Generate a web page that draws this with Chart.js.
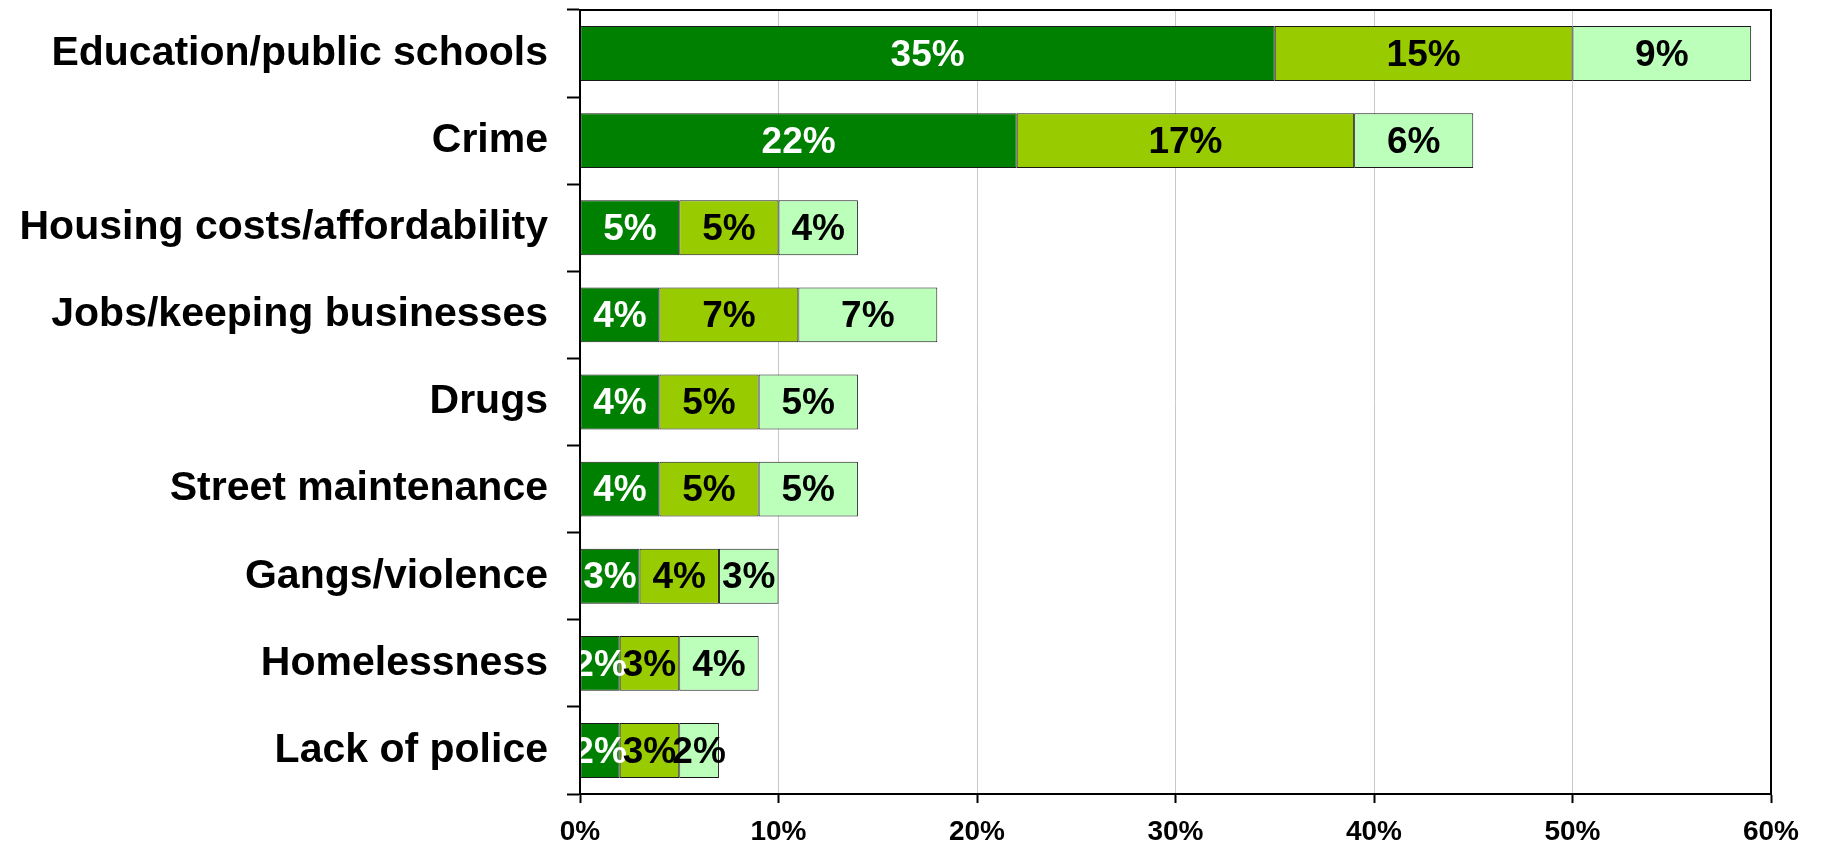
<!DOCTYPE html>
<html lang="en">
<head>
<meta charset="UTF-8">
<title>Issues chart</title>
<style>
    body { margin: 0; background: #fff; }
    .wrap { width: 1821px; height: 845px; position: relative; }
</style>
</head>
<body>
<div class="wrap"><canvas id="chart"></canvas></div>
<script src="https://cdn.jsdelivr.net/npm/chart.js"></script>
<script>
const categories = [
    'Education/public schools',
    'Crime',
    'Housing costs/affordability',
    'Jobs/keeping businesses',
    'Drugs',
    'Street maintenance',
    'Gangs/violence',
    'Homelessness',
    'Lack of police'
];
const firstValues  = [35, 22, 5, 4, 4, 4, 3, 2, 2];
const secondValues = [15, 17, 5, 7, 5, 5, 4, 3, 3];
const thirdValues  = [9, 6, 4, 7, 5, 5, 3, 4, 2];
const xTicks = [0, 10, 20, 30, 40, 50, 60];

const FONT = "'Liberation Sans', Arial, sans-serif";

// labels in the middle of each segment
const segmentLabels = {
    id: 'segmentLabels',
    afterDatasetsDraw(chart) {
        const ctx = chart.ctx;
        const area = chart.chartArea;
        ctx.save();
        ctx.beginPath();
        ctx.rect(area.left + 1, 0, chart.width, chart.height);
        ctx.clip();
        ctx.font = 'bold 37px ' + FONT;
        ctx.textAlign = 'center';
        ctx.textBaseline = 'middle';
        chart.data.datasets.forEach((ds, i) => {
            const meta = chart.getDatasetMeta(i);
            ctx.fillStyle = i === 0 ? '#ffffff' : '#000000';
            meta.data.forEach((bar, j) => {
                const p = bar.getProps(['x', 'y', 'base'], true);
                ctx.fillText(ds.data[j] + '%', (p.x + p.base) / 2, p.y + 2);
            });
        });
        ctx.restore();
    }
};

// box round the plot area
const plotFrame = {
    id: 'plotFrame',
    afterDraw(chart) {
        const a = chart.chartArea;
        const ctx = chart.ctx;
        ctx.save();
        ctx.strokeStyle = '#000';
        ctx.lineWidth = 2;
        ctx.strokeRect(a.left, a.top, a.right - a.left, a.bottom - a.top);
        ctx.restore();
    }
};

new Chart(document.getElementById('chart'), {
    type: 'bar',
    data: {
        labels: categories,
        datasets: [
            { data: firstValues, backgroundColor: '#008000' },
            { data: secondValues, backgroundColor: '#99cc00' },
            { data: thirdValues, backgroundColor: '#bbffbb' }
        ].map(d => Object.assign(d, {
            borderColor: '#1a1a1a',
            borderWidth: 1,
            borderSkipped: false,
            barPercentage: 0.63,
            categoryPercentage: 1
        }))
    },
    options: {
        indexAxis: 'y',
        responsive: true,
        maintainAspectRatio: false,
        animation: false,
        layout: { padding: { top: 10, right: 50, bottom: 0, left: 0 } },
        plugins: {
            legend: { display: false },
            tooltip: { enabled: false }
        },
        scales: {
            x: {
                stacked: true,
                min: 0,
                max: 60,
                afterBuildTicks: scale => { scale.ticks = xTicks.map(v => ({ value: v })); },
                afterFit: scale => {
                    scale.height = 51;
                    scale.paddingLeft = 0;
                    scale.paddingRight = 0;
                },
                ticks: {
                    callback: v => v + '%',
                    color: '#000',
                    font: { family: FONT, size: 28, weight: 'bold' },
                    padding: 12,
                    maxRotation: 0
                },
                grid: {
                    color: '#c8c8c8',
                    lineWidth: 1,
                    borderDash: [25, 8, 9, 8, 9, 8],
                    tickColor: '#000',
                    tickWidth: 2,
                    tickLength: 9,
                    tickBorderDash: []
                },
                border: { color: '#000', width: 2 }
            },
            y: {
                stacked: true,
                afterFit: scale => {
                    scale.width = 580;
                    scale.paddingTop = 0;
                    scale.paddingBottom = 0;
                },
                ticks: {
                    color: '#000',
                    font: { family: FONT, size: 41, weight: 'bold' },
                    padding: 19
                },
                grid: {
                    drawOnChartArea: false,
                    offset: true,
                    tickColor: '#000',
                    tickWidth: 2,
                    tickLength: 13
                },
                border: { color: '#000', width: 2 }
            }
        }
    },
    plugins: [segmentLabels, plotFrame]
});
</script>
</body>
</html>
